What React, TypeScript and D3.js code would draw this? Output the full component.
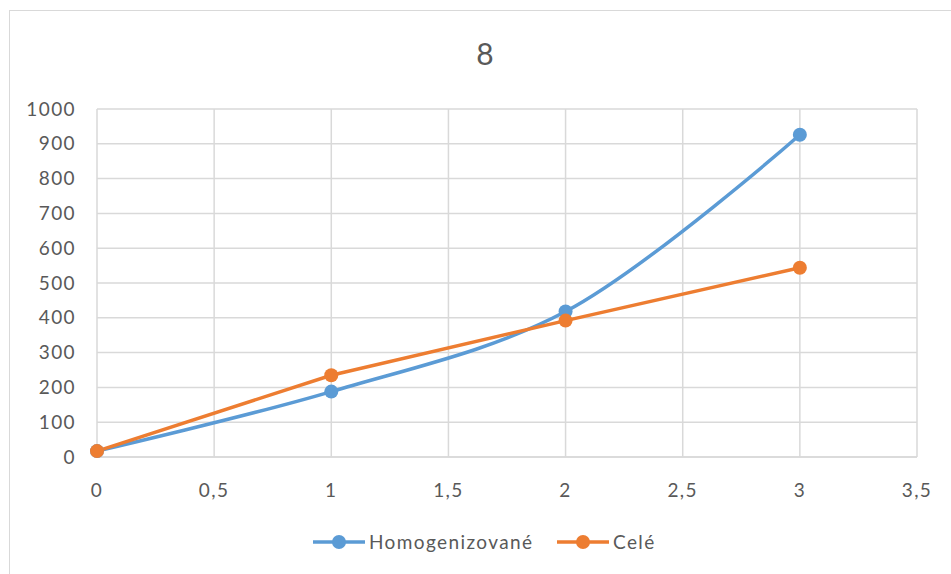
import React from "react";
import * as d3 from "d3";

const xValues = [0, 1, 2, 3];
const homogenizovane = [17, 188, 418, 926];
const cele = [17, 235, 392, 544];
const xTicks = [0, 0.5, 1, 1.5, 2, 2.5, 3, 3.5];
const yTicks = [0, 100, 200, 300, 400, 500, 600, 700, 800, 900, 1000];
const seriesNames = ["Homogenizované", "Celé"];
const title = "8";

const W = 951;
const H = 574;
const FONT = "Lato, 'Open Sans', sans-serif";
const TEXT = "#595959";
const GRID = "#D9D9D9";
const BLUE = "#5B9BD5";
const ORANGE = "#ED7D31";
const LS = 1.4;

export default function App() {
  const x = d3.scaleLinear().domain([0, 3.5]).range([97, 917]);
  const y = d3.scaleLinear().domain([0, 1000]).range([457, 109]);
  const fmt = (v: number) => String(v).replace(".", ",");

  const blueData = xValues.map((xv, i) => [xv, homogenizovane[i]] as [number, number]);
  const orangeData = xValues.map((xv, i) => [xv, cele[i]] as [number, number]);

  const smooth = d3
    .line<[number, number]>()
    .x((d) => x(d[0]))
    .y((d) => y(d[1]))
    .curve(d3.curveCatmullRom.alpha(0.5));
  const straight = d3
    .line<[number, number]>()
    .x((d) => x(d[0]))
    .y((d) => y(d[1]));

  const legendItems = [
    { name: seriesNames[0], color: BLUE, x0: 313 },
    { name: seriesNames[1], color: ORANGE, x0: 557 },
  ];

  return (
    <svg
      width={W}
      height={H}
      style={{ position: "absolute", left: 0, top: 0, background: "#fff" }}
      fontFamily={FONT}
    >
      <rect x={9.5} y={10.5} width={W} height={H} fill="#fff" stroke={GRID} strokeWidth={1} />
      <text x={485} y={65} textAnchor="middle" fontSize={30} fill={TEXT}>
        {title}
      </text>
      {yTicks.map((t) => (
        <g key={"y" + t}>
          <line x1={x(0)} x2={x(3.5)} y1={y(t)} y2={y(t)} stroke={GRID} strokeWidth={1.5} />
          <text x={76} y={y(t)} dy="0.35em" textAnchor="end" fontSize={19} letterSpacing={LS} fill={TEXT}>
            {t}
          </text>
        </g>
      ))}
      {xTicks.map((t) => (
        <g key={"x" + t}>
          <line x1={x(t)} x2={x(t)} y1={y(0)} y2={y(1000)} stroke={GRID} strokeWidth={1.5} />
          <text x={x(t)} y={497} textAnchor="middle" fontSize={19} letterSpacing={LS} fill={TEXT}>
            {fmt(t)}
          </text>
        </g>
      ))}
      <line x1={x(0)} x2={x(3.5)} y1={y(0)} y2={y(0)} stroke={GRID} strokeWidth={1.5} />
      <path d={smooth(blueData) || ""} fill="none" stroke={BLUE} strokeWidth={3.5} />
      <path d={straight(orangeData) || ""} fill="none" stroke={ORANGE} strokeWidth={3.5} />
      {blueData.map((d, i) => (
        <circle key={"b" + i} cx={x(d[0])} cy={y(d[1])} r={7} fill={BLUE} />
      ))}
      {orangeData.map((d, i) => (
        <circle key={"o" + i} cx={x(d[0])} cy={y(d[1])} r={7} fill={ORANGE} />
      ))}
      {legendItems.map((it) => (
        <g key={it.name}>
          <line x1={it.x0} x2={it.x0 + 52} y1={542} y2={542} stroke={it.color} strokeWidth={3.5} />
          <circle cx={it.x0 + 26} cy={542} r={7} fill={it.color} />
          <text x={it.x0 + 56} y={542} dy="0.35em" fontSize={19} letterSpacing={LS} fill={TEXT}>
            {it.name}
          </text>
        </g>
      ))}
    </svg>
  );
}
